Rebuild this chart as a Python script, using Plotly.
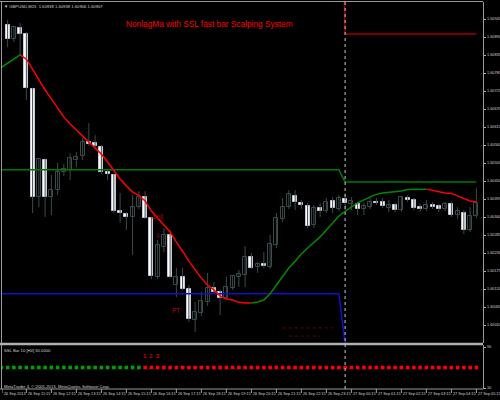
import plotly.graph_objects as go
import pandas as pd

# ---------------- data ----------------
bar_times = pd.date_range("2013-09-26 10:30", periods=76, freq="15min")

opens = [1.60928, 1.60885, 1.60918, 1.60900, 1.60732, 1.60402, 1.60515, 1.60402, 1.60423, 1.60478,
         1.60484, 1.60515, 1.60527, 1.60570, 1.60567, 1.60555, 1.60478, 1.60469, 1.60359, 1.60350,
         1.60341, 1.60371, 1.60402, 1.60338, 1.60158, 1.60249, 1.60286, 1.60133, 1.60158, 1.60121,
         1.60026, 1.60047, 1.60081, 1.60124, 1.60112, 1.60093, 1.60124, 1.60158, 1.60164, 1.60219,
         1.60188, 1.60197, 1.60188, 1.60255, 1.60335, 1.60371, 1.60405, 1.60384, 1.60375, 1.60316,
         1.60368, 1.60359, 1.60390, 1.60365, 1.60396, 1.60381, 1.60381, 1.60365, 1.60371, 1.60387,
         1.60387, 1.60368, 1.60378, 1.60362, 1.60399, 1.60393, 1.60371, 1.60365, 1.60378, 1.60375,
         1.60365, 1.60381, 1.60347, 1.60353, 1.60301, 1.60344]
highs = [1.60943, 1.60925, 1.60934, 1.60906, 1.60735, 1.60521, 1.60521, 1.60469, 1.60506, 1.60503,
         1.60536, 1.60539, 1.60582, 1.60628, 1.60591, 1.60561, 1.60484, 1.60472, 1.60414, 1.60356,
         1.60408, 1.60420, 1.60420, 1.60341, 1.60271, 1.60307, 1.60301, 1.60185, 1.60185, 1.60133,
         1.60081, 1.60112, 1.60170, 1.60142, 1.60118, 1.60158, 1.60164, 1.60179, 1.60252, 1.60231,
         1.60203, 1.60234, 1.60286, 1.60353, 1.60399, 1.60423, 1.60423, 1.60393, 1.60384, 1.60378,
         1.60384, 1.60399, 1.60402, 1.60408, 1.60414, 1.60402, 1.60387, 1.60384, 1.60399, 1.60399,
         1.60399, 1.60393, 1.60384, 1.60405, 1.60408, 1.60399, 1.60381, 1.60393, 1.60387, 1.60381,
         1.60387, 1.60387, 1.60371, 1.60362, 1.60371, 1.60430]
lows = [1.60860, 1.60876, 1.60836, 1.60698, 1.60353, 1.60371, 1.60341, 1.60347, 1.60408, 1.60466,
        1.60454, 1.60494, 1.60515, 1.60558, 1.60552, 1.60472, 1.60454, 1.60353, 1.60323, 1.60301,
        1.60225, 1.60365, 1.60335, 1.60151, 1.60151, 1.60234, 1.60154, 1.60096, 1.60118, 1.60020,
        1.59989, 1.60038, 1.60069, 1.60109, 1.60041, 1.60087, 1.60118, 1.60127, 1.60127, 1.60182,
        1.60170, 1.60185, 1.60182, 1.60246, 1.60326, 1.60365, 1.60362, 1.60365, 1.60307, 1.60307,
        1.60341, 1.60353, 1.60353, 1.60359, 1.60362, 1.60362, 1.60347, 1.60347, 1.60365, 1.60378,
        1.60368, 1.60356, 1.60356, 1.60356, 1.60387, 1.60362, 1.60356, 1.60359, 1.60365, 1.60356,
        1.60359, 1.60341, 1.60335, 1.60289, 1.60295, 1.60338]
closes = [1.60885, 1.60921, 1.60900, 1.60735, 1.60402, 1.60518, 1.60402, 1.60423, 1.60478, 1.60487,
          1.60521, 1.60524, 1.60570, 1.60564, 1.60558, 1.60478, 1.60472, 1.60359, 1.60353, 1.60341,
          1.60371, 1.60402, 1.60338, 1.60160, 1.60255, 1.60286, 1.60158, 1.60158, 1.60121, 1.60029,
          1.60050, 1.60084, 1.60124, 1.60112, 1.60093, 1.60127, 1.60160, 1.60167, 1.60219, 1.60185,
          1.60197, 1.60191, 1.60258, 1.60338, 1.60371, 1.60411, 1.60387, 1.60378, 1.60313, 1.60368,
          1.60359, 1.60387, 1.60368, 1.60399, 1.60384, 1.60390, 1.60365, 1.60375, 1.60387, 1.60384,
          1.60375, 1.60378, 1.60362, 1.60402, 1.60393, 1.60368, 1.60365, 1.60378, 1.60371, 1.60365,
          1.60381, 1.60347, 1.60359, 1.60301, 1.60344, 1.60384]

# NonLagMA (bar -1 .. 75) and its trend colour state
ma_values = [1.60798, 1.60811, 1.60823, 1.60836, 1.60823, 1.60792, 1.60760, 1.60729, 1.60702, 1.60674,
             1.60646, 1.60625, 1.60607, 1.60588, 1.60570, 1.60553, 1.60533, 1.60509, 1.60481, 1.60457,
             1.60436, 1.60417, 1.60407, 1.60390, 1.60359, 1.60338, 1.60316, 1.60295, 1.60264, 1.60237,
             1.60206, 1.60179, 1.60154, 1.60133, 1.60118, 1.60099, 1.60090, 1.60087, 1.60080, 1.60078,
             1.60078, 1.60081, 1.60087, 1.60106, 1.60133, 1.60160, 1.60185, 1.60206, 1.60228, 1.60246,
             1.60263, 1.60280, 1.60301, 1.60323, 1.60344, 1.60358, 1.60371, 1.60384, 1.60393, 1.60402,
             1.60410, 1.60414, 1.60416, 1.60417, 1.60420, 1.60425, 1.60426, 1.60426, 1.60426, 1.60422,
             1.60417, 1.60414, 1.60413, 1.60405, 1.60397, 1.60390, 1.60387]
ma_trend = ["up"] * 4 + ["down"] * 37 + ["up"] * 28 + ["down"] * 8

# SSL channel levels (bar -1 .. 75)
ssl_mid = [1.60485] * 55 + [1.60448] * 22
ssl_low = [1.60106] * 55 + [1.59953] * 22
ssl_high = [None] * 54 + [1.61700] + [1.60900] * 22

# faint dark-red target levels: (first bar, last bar, price)
target_levels = [(44, 52, 1.60002), (45, 50, 1.59977)]

# signal labels: (text, bar, price)
signal_labels = [("Sell", 24, 1.60342), ("⇩", 24, 1.60283), ("PT", 27, 1.60055)]

# SSL bar sub-window state (bar -1 .. 75)
ssl_bar_state = ["buy"] * 23 + ["sell"] * 54
ssl_bar_level = 50
ssl_count_labels = [("1", 22), ("2", 23), ("3", 24)]

price_ticks = [1.60945, 1.60890, 1.60835, 1.60780, 1.60725, 1.60670, 1.60615, 1.60560, 1.60505,
               1.60450, 1.60395, 1.60340, 1.60285, 1.60230, 1.60175, 1.60120, 1.60065, 1.60010,
               1.59955]
sub_ticks = [90, 10]
time_labels = ["26 Sep 2013", "26 Sep 11:15", "26 Sep 12:15", "26 Sep 13:15", "26 Sep 14:15",
               "26 Sep 15:15", "26 Sep 16:15", "26 Sep 17:15", "26 Sep 18:15", "26 Sep 19:15",
               "26 Sep 20:15", "26 Sep 21:15", "26 Sep 22:15", "26 Sep 23:15", "27 Sep 00:15",
               "27 Sep 01:15", "27 Sep 02:15", "27 Sep 03:15", "27 Sep 04:15", "27 Sep 05:15"]

title_text = "NonlagMa with SSL fast bar Scalping System"
header_text = "▼ GBPUSD,M15  1.60938 1.60938 1.60906 1.60907"
sub_text = "SSL Bar 10 [H4] 50.0000"
copyright_text = "MetaTrader 4, © 2001-2013, MetaQuotes Software Corp."

# ---------------- figure ----------------
n = len(opens)
idx = list(range(n))
ext_idx = list(range(-1, n))
X0, X1 = -0.9, 76.06
PLOT_H = 387.0


def py(ypix):
    """paper y from a pixel row of the 500x400 image (plot area rows 2..389)."""
    return (389 - ypix) / PLOT_H


def px(xpix):
    return (xpix - 2) / 481.0


BULL_LINE = "#3b4b4b"
BEAR_LINE = "#c8c8dc"
fig = go.Figure()

# wicks
wx, wy = [], []
for i in idx:
    wx += [i, i, None]
    wy += [lows[i], highs[i], None]
fig.add_trace(go.Scatter(x=wx, y=wy, mode="lines", line=dict(color=BULL_LINE, width=1),
                         hoverinfo="skip", showlegend=False))

# bodies
for bull in (True, False):
    sel = [i for i in idx if (closes[i] >= opens[i]) == bull]
    fig.add_trace(go.Bar(
        x=sel,
        y=[max(abs(closes[i] - opens[i]), 0.00001) for i in sel],
        base=[min(opens[i], closes[i]) for i in sel],
        width=0.62,
        marker=dict(color="#000000" if bull else "#ffffff",
                    line=dict(color=BULL_LINE if bull else BEAR_LINE, width=1)),
        showlegend=False, hoverinfo="skip"))

# target levels
for b0, b1, lvl in target_levels:
    fig.add_trace(go.Scatter(x=[b0, b1], y=[lvl, lvl], mode="lines",
                             line=dict(color="#6a0000", width=1, dash="dot"),
                             showlegend=False, hoverinfo="skip"))

# SSL levels
fig.add_trace(go.Scatter(x=ext_idx, y=ssl_mid, mode="lines", line=dict(color="#007a00", width=1.5),
                         showlegend=False, hoverinfo="skip"))
fig.add_trace(go.Scatter(x=ext_idx, y=ssl_low, mode="lines", line=dict(color="#1010c8", width=1.5),
                         showlegend=False, hoverinfo="skip"))
fig.add_trace(go.Scatter(x=ext_idx, y=ssl_high, mode="lines", line=dict(color="#a00000", width=1.5),
                         showlegend=False, hoverinfo="skip", connectgaps=False))

# NonLagMA coloured by trend
for state, col in (("up", "#008a00"), ("down", "#ff0000")):
    ys = []
    for k in range(len(ma_values)):
        on = ma_trend[k] == state or (k + 1 < len(ma_values) and ma_trend[k + 1] == state)
        ys.append(ma_values[k] if on else None)
    fig.add_trace(go.Scatter(x=ext_idx, y=ys, mode="lines", line=dict(color=col, width=1.5),
                             showlegend=False, hoverinfo="skip"))

# SSL bar squares
for state, col in (("buy", "#00a000"), ("sell", "#ff0000")):
    sel = [k for k in range(len(ssl_bar_state)) if ssl_bar_state[k] == state]
    fig.add_trace(go.Scatter(x=[ext_idx[k] for k in sel], y=[ssl_bar_level] * len(sel),
                             mode="markers", yaxis="y2",
                             marker=dict(symbol="square", size=3.6, color=col, line=dict(width=0)),
                             showlegend=False, hoverinfo="skip"))

TXT = "Liberation Sans"
LBL = "#d0d0d0"
annotations = []
# title
annotations.append(dict(text=title_text, xref="paper", yref="paper", x=px(125), y=py(24),
                        xanchor="left", yanchor="middle", showarrow=False, borderpad=0,
                        font=dict(family=TXT, size=8.3, color="#ff0000")))
annotations.append(dict(text=header_text, xref="paper", yref="paper", x=px(3), y=py(7),
                        xanchor="left", yanchor="middle", showarrow=False, borderpad=0,
                        font=dict(family=TXT, size=4.2, color=LBL)))
annotations.append(dict(text=sub_text, xref="paper", yref="paper", x=px(3), y=py(350),
                        xanchor="left", yanchor="middle", showarrow=False, borderpad=0,
                        font=dict(family=TXT, size=4.2, color=LBL)))
annotations.append(dict(text=copyright_text, xref="paper", yref="paper", x=px(3), y=py(386),
                        xanchor="left", yanchor="middle", showarrow=False, borderpad=0,
                        font=dict(family=TXT, size=4.2, color=LBL)))
# signals
for txt, b, p in signal_labels:
    annotations.append(dict(text=txt, x=b, y=p, xanchor="center", yanchor="middle",
                            showarrow=False, borderpad=0,
                            font=dict(family=TXT, size=6.5, color="#b80000")))
for lab, b in ssl_count_labels:
    annotations.append(dict(text=lab, x=b, y=73, yref="y2", xanchor="center", yanchor="middle",
                            showarrow=False, borderpad=0,
                            font=dict(family=TXT, size=6, color="#ff0000")))

# price axis labels (right side, left aligned as in MT4)
for v in price_ticks:
    annotations.append(dict(text=f"{v:.5f}", xref="paper", yref="y", x=px(485.5), y=v,
                            xanchor="left", yanchor="middle", showarrow=False, borderpad=0,
                            font=dict(family=TXT, size=3.8, color=LBL)))
for v in sub_ticks:
    annotations.append(dict(text=str(v), xref="paper", yref="y2", x=px(485.5), y=v,
                            xanchor="left", yanchor="middle", showarrow=False, borderpad=0,
                            font=dict(family=TXT, size=3.8, color=LBL)))

# time axis labels
shapes = []
tick_pos = [X0]
for lab in time_labels[1:]:
    t = pd.to_datetime("2013 " + lab, format="%Y %d %b %H:%M")
    tick_pos.append(int(list(bar_times).index(t)))
for pos, lab in zip(tick_pos, time_labels):
    annotations.append(dict(text=lab, x=pos, xref="x", yref="paper", y=py(390.5), xanchor="left",
                            yanchor="top", xshift=0.5, showarrow=False, borderpad=0,
                            font=dict(family=TXT, size=3.8, color=LBL)))
    shapes.append(dict(type="line", xref="x", yref="paper", x0=pos, x1=pos, y0=0, y1=py(393),
                       line=dict(color="#a0a0a0", width=1)))

# frame lines
GR = "#9a9a9a"
shapes += [
    dict(type="line", xref="paper", yref="paper", x0=px(0), x1=1.0, y0=py(1.5), y1=py(1.5),
         line=dict(color=GR, width=1)),
    dict(type="line", xref="paper", yref="paper", x0=px(1.5), x1=px(1.5), y0=0, y1=py(1.5),
         line=dict(color=GR, width=1)),
    dict(type="line", xref="paper", yref="paper", x0=px(0), x1=1.0, y0=py(344), y1=py(344),
         line=dict(color="#b0b0b0", width=2.5)),
    dict(type="line", xref="paper", yref="paper", x0=px(0), x1=1.0, y0=0, y1=0,
         line=dict(color=GR, width=1)),
    dict(type="line", xref="x", yref="paper", x0=54, x1=54, y0=0, y1=py(2),
         line=dict(color="#c8c8c8", width=1, dash="dot")),
]

fig.update_layout(
    width=500, height=400,
    margin=dict(l=2, r=17, t=2, b=11, autoexpand=False),
    paper_bgcolor="#000000", plot_bgcolor="#000000",
    barmode="overlay", bargap=0,
    showlegend=False,
    xaxis=dict(range=[X0, X1], anchor="y2", showgrid=False, zeroline=False, showticklabels=False,
               ticks="", showline=False, fixedrange=True, automargin=False),
    yaxis=dict(domain=[46 / PLOT_H, 1], range=[1.599558, 1.609979], side="right", showgrid=False,
               zeroline=False, tickvals=price_ticks, showticklabels=False,
               ticks="outside", ticklen=2, tickcolor="#b0b0b0", automargin=False,
               showline=True, linecolor=GR, linewidth=1),
    yaxis2=dict(domain=[0, 44 / PLOT_H], range=[8.05, 93.9], side="right", showgrid=False,
                zeroline=False, tickvals=sub_ticks, showticklabels=False, ticks="outside",
                ticklen=2, tickcolor="#b0b0b0", automargin=False,
                showline=True, linecolor=GR, linewidth=1),
    annotations=annotations,
    shapes=shapes,
)

fig.write_html("out.html", config={"displayModeBar": False},
               post_script="document.body.style.margin='0';document.body.style.background='#000';")
